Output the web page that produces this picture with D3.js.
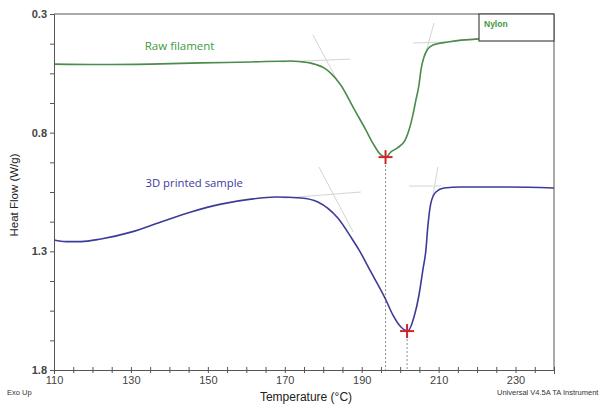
<!DOCTYPE html>
<html>
<head>
<meta charset="utf-8">
<script src="https://cdn.jsdelivr.net/npm/d3@7"></script>
<style>
  body { margin: 0; background: #fff; }
  svg { display: block; }
  text { font-family: "Liberation Sans", Arial, sans-serif; }
</style>
</head>
<body>
<div id="chart"></div>
<script>
// temperature (°C) and heat flow (W/g)
var rawTemp = [110, 122.2, 135.2, 148.2, 161.2, 171.6, 174.2, 176.8, 178.1, 180.2, 182.0, 184.6, 188.0, 191.1, 192.9, 195.0, 196.3, 197.6, 199.2, 201.3, 202.3, 203.3, 204.1, 204.9, 205.4, 206.2, 207.2, 208.5, 212.4, 220.5, 228.8, 240];
var rawFlow = [0.511, 0.513, 0.511, 0.506, 0.502, 0.498, 0.501, 0.507, 0.513, 0.527, 0.550, 0.600, 0.700, 0.789, 0.844, 0.894, 0.903, 0.881, 0.865, 0.831, 0.789, 0.726, 0.662, 0.599, 0.536, 0.481, 0.447, 0.431, 0.418, 0.405, 0.401, 0.397];

var printTemp = [110, 113.1, 117.0, 122.2, 130.0, 137.8, 145.6, 153.4, 161.2, 167.7, 174.2, 178.6, 183.8, 187.2, 189.3, 192.4, 196.3, 198.1, 200.2, 202.0, 203.6, 204.9, 205.9, 206.7, 207.2, 208.0, 209.3, 211.4, 215.8, 226.2, 240];
var printFlow = [1.252, 1.259, 1.259, 1.248, 1.219, 1.176, 1.134, 1.101, 1.080, 1.071, 1.075, 1.092, 1.160, 1.240, 1.294, 1.387, 1.505, 1.568, 1.619, 1.636, 1.577, 1.484, 1.379, 1.294, 1.195, 1.096, 1.050, 1.033, 1.029, 1.029, 1.033];

// peak markers [temp, flow]
var peaks = [[196.2, 0.903, "raw"], [201.8, 1.636, "print"]];

// onset / endset tangent construction lines [[t1, f1], [t2, f2]]
var tangents = [
    [[177.3, 0.388], [183.3, 0.570]],
    [[169.0, 0.502], [187.0, 0.490]],
    [[208.8, 0.338], [206.5, 0.473]],
    [[203.3, 0.422], [212.4, 0.418]],
    [[178.9, 0.945], [187.8, 1.219]],
    [[169.5, 1.076], [189.8, 1.050]],
    [[209.8, 0.945], [208.3, 1.084]],
    [[202.3, 1.025], [210.6, 1.025]]
];

var xTicks = [110, 130, 150, 170, 190, 210, 230];
var yTicks = [0.3, 0.8, 1.3, 1.8];

var margin = {top: 14, right: 49, bottom: 34, left: 54},
    width = 603 - margin.left - margin.right,
    height = 404 - margin.top - margin.bottom;

var X = d3.scaleLinear().domain([110, 240]).range([0, width]);
var Y = d3.scaleLinear().domain([0.3, 1.8]).range([0, height]);

var svg = d3.select("#chart").append("svg")
    .attr("width", 603)
    .attr("height", 404);

var g = svg.append("g")
    .attr("transform", "translate(" + margin.left + "," + margin.top + ")");

// tangent lines
g.selectAll("line.tan")
    .data(tangents)
    .enter().append("line")
    .attr("class", "tan")
    .attr("x1", function(d) { return X(d[0][0]); })
    .attr("y1", function(d) { return Y(d[0][1]); })
    .attr("x2", function(d) { return X(d[1][0]); })
    .attr("y2", function(d) { return Y(d[1][1]); })
    .attr("stroke", "#d4d4d4")
    .attr("stroke-width", 1);

// dotted drop lines from the peaks
g.selectAll("line.drop")
    .data(peaks)
    .enter().append("line")
    .attr("class", "drop")
    .attr("x1", function(d) { return X(d[0]); })
    .attr("y1", function(d) { return Y(d[1]); })
    .attr("x2", function(d) { return X(d[0]); })
    .attr("y2", height)
    .attr("stroke", "#8a8a8a")
    .attr("stroke-width", 1)
    .attr("stroke-dasharray", "2,2");

var line = d3.line()
    .x(function(d) { return X(d[0]); })
    .y(function(d) { return Y(d[1]); })
    .curve(d3.curveMonotoneX);

g.append("path")
    .datum(d3.zip(rawTemp, rawFlow))
    .attr("d", line)
    .attr("fill", "none")
    .attr("stroke", "#4b8b4b")
    .attr("stroke-width", 1.6);

g.append("path")
    .datum(d3.zip(printTemp, printFlow))
    .attr("d", line)
    .attr("fill", "none")
    .attr("stroke", "#3c3c98")
    .attr("stroke-width", 1.6);

// red crosses on the peaks
var cross = g.selectAll("g.cross")
    .data(peaks)
    .enter().append("g")
    .attr("transform", function(d) { return "translate(" + X(d[0]) + "," + Y(d[1]) + ")"; });
cross.append("line").attr("x1", -7).attr("x2", 7).attr("y1", 0).attr("y2", 0);
cross.append("line").attr("x1", 0).attr("x2", 0).attr("y1", -7).attr("y2", 7);
cross.selectAll("line").attr("stroke", "#d2232a").attr("stroke-width", 2);

// axes
var yAxis = d3.axisLeft(Y)
    .tickValues(d3.range(0.3, 1.801, 0.125))
    .tickSize(4)
    .tickFormat(function(d) {
        return yTicks.some(function(t) { return Math.abs(t - d) < 1e-6; }) ? d3.format(".1f")(d) : "";
    });
var gy = g.append("g").call(yAxis);
gy.selectAll("text").attr("font-size", 11).attr("font-weight", "bold").attr("fill", "#444");

var xAxis = d3.axisBottom(X)
    .tickValues(d3.range(110, 240.1, 5))
    .tickSize(4)
    .tickFormat(function(d) { return xTicks.indexOf(d) >= 0 ? d : ""; });
var gx = g.append("g").attr("transform", "translate(0," + height + ")").call(xAxis);
gx.selectAll(".tick line").attr("y1", -3).attr("y2", 3);
gx.selectAll("text").attr("font-size", 11).attr("fill", "#444").attr("dy", "0.6em");

g.selectAll(".domain").attr("stroke", "#555");
g.selectAll(".tick line").attr("stroke", "#555");

// frame
g.append("line").attr("x1", 0).attr("x2", width).attr("y1", 0).attr("y2", 0).attr("stroke", "#555");
g.append("line").attr("x1", width).attr("x2", width).attr("y1", 0).attr("y2", height).attr("stroke", "#555");

// legend box
g.append("rect")
    .attr("x", width - 75).attr("y", 0)
    .attr("width", 75).attr("height", 27)
    .attr("fill", "#fff")
    .attr("stroke", "#555").attr("stroke-width", 1.3);
g.append("text")
    .attr("x", width - 70).attr("y", 13)
    .attr("font-size", 8.5).attr("font-weight", "bold")
    .attr("fill", "#3f9a3f")
    .text("Nylon");

// curve labels
g.append("text")
    .attr("x", X(133.6)).attr("y", Y(0.452))
    .style("font-family", "'Open Sans', sans-serif")
    .attr("font-size", 11.5).attr("fill", "#3d9a3d")
    .text("Raw filament");
g.append("text")
    .attr("x", X(133.8)).attr("y", Y(1.029))
    .style("font-family", "'Open Sans', sans-serif")
    .attr("font-size", 11.3).attr("fill", "#3a3aa0")
    .text("3D printed sample");

// titles
svg.append("text")
    .attr("transform", "translate(18,195) rotate(-90)")
    .attr("text-anchor", "middle")
    .attr("font-size", 11.5).attr("fill", "#222")
    .text("Heat Flow (W/g)");
svg.append("text")
    .attr("x", 306).attr("y", 401)
    .attr("text-anchor", "middle")
    .attr("font-size", 12).attr("fill", "#222")
    .text("Temperature (°C)");
svg.append("text")
    .attr("x", 7).attr("y", 395)
    .attr("font-size", 7.5).attr("fill", "#333")
    .text("Exo Up");
svg.append("text")
    .attr("x", 497).attr("y", 395)
    .attr("font-size", 7.5).attr("fill", "#333")
    .text("Universal V4.5A TA Instrument");
</script>
</body>
</html>
